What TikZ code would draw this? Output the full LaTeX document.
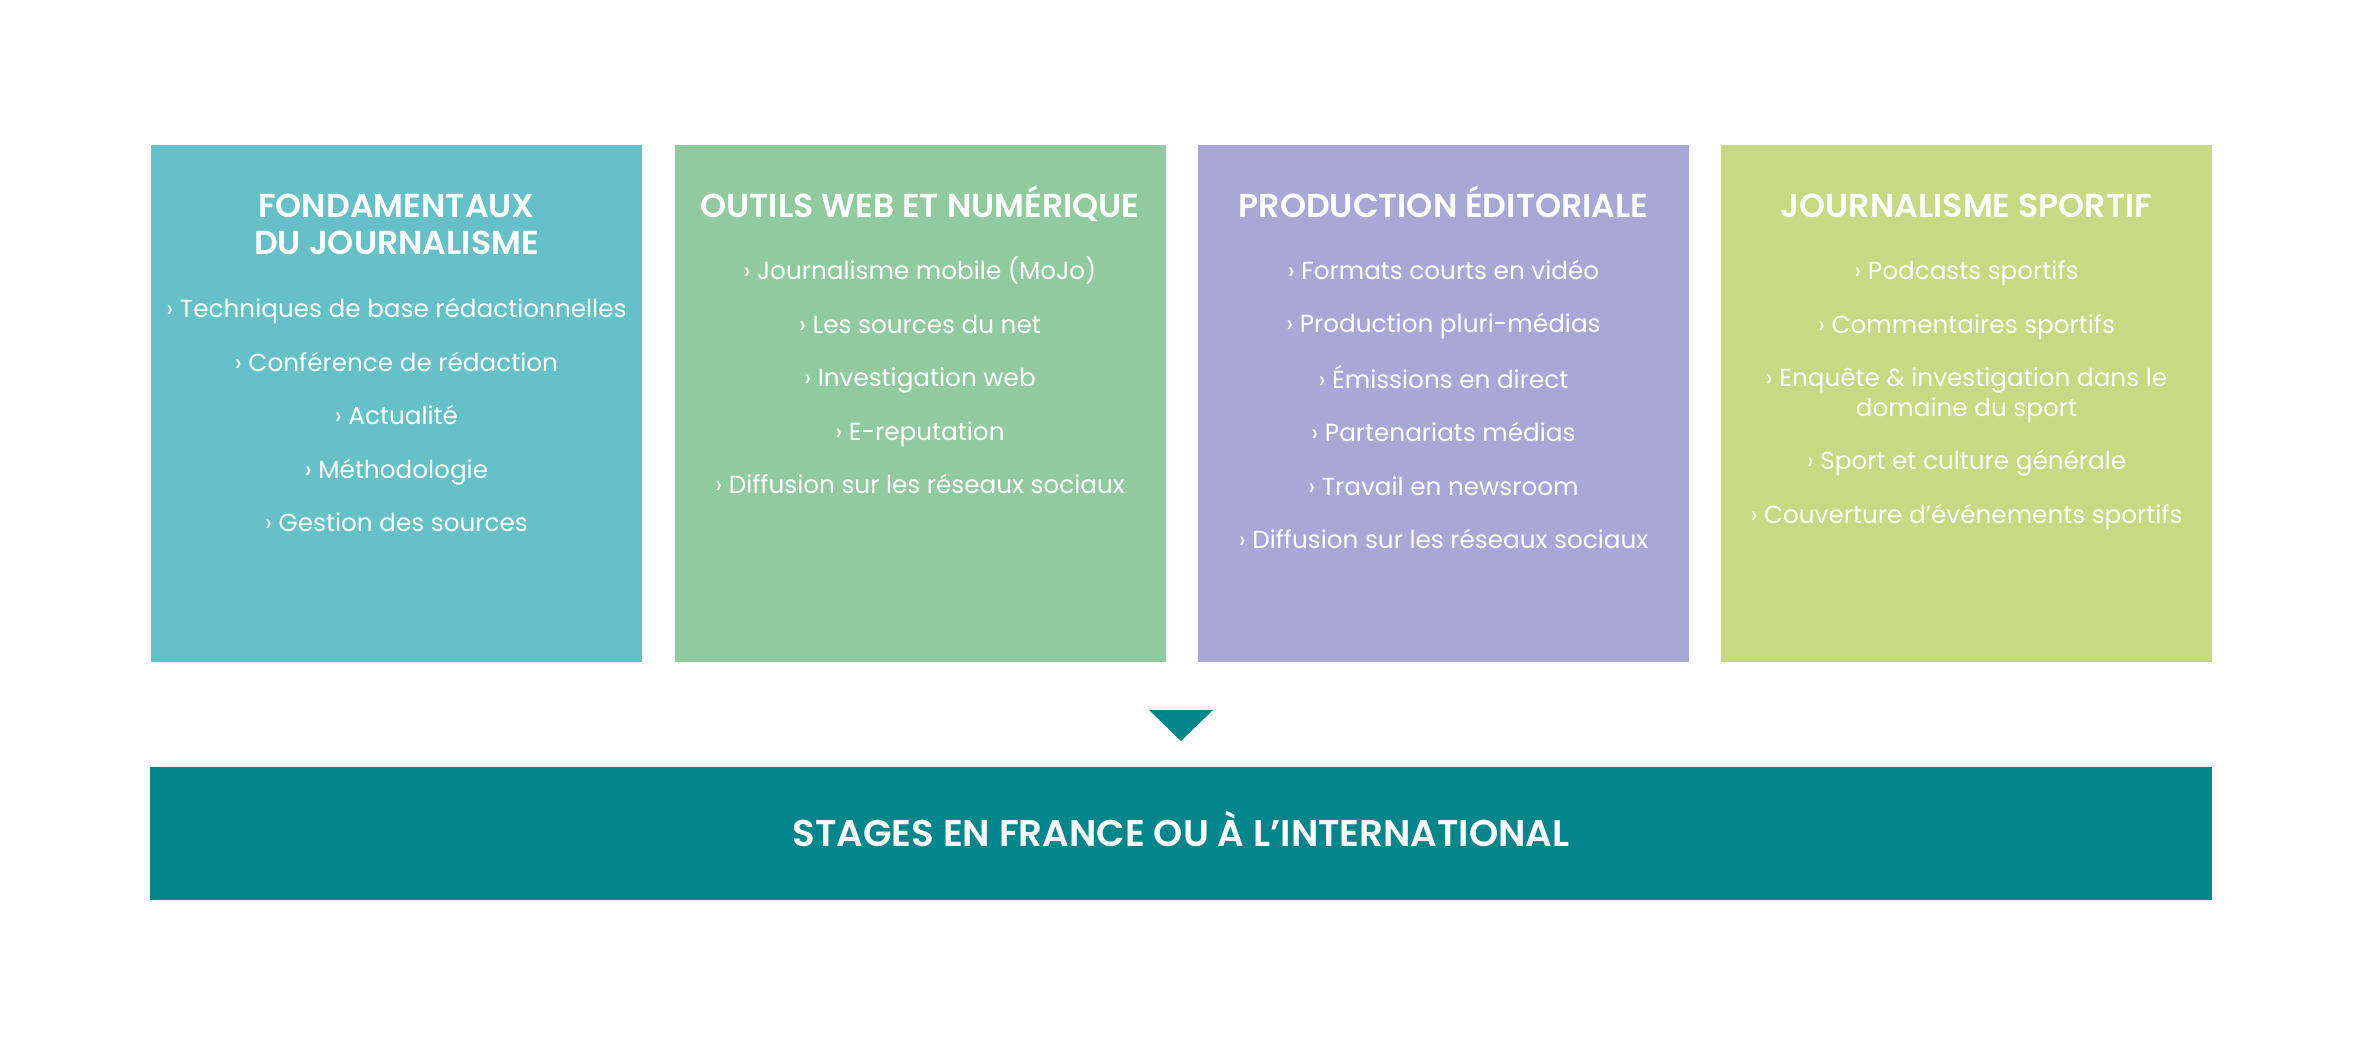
\documentclass[tikz,border=0pt]{standalone}
\usepackage{fontspec}
\setmainfont{Poppins}[BoldFont={Poppins SemiBold}]
\usepackage{xcolor}
\usetikzlibrary{positioning}

\definecolor{fondcol}{HTML}{65C1C7}
\definecolor{webcol}{HTML}{92CAA0}
\definecolor{prodcol}{HTML}{A7A8D5}
\definecolor{sportcol}{HTML}{C7D982}
\definecolor{stagecol}{HTML}{00868A}
\newcommand{\igap}{12.1pt}

\begin{document}
\begin{tikzpicture}[x=0.5pt, y=-0.5pt,
    block/.style={minimum width=245.5pt, minimum height=258.5pt, inner sep=0pt, outer sep=0pt},
    headtext/.style={anchor=base, align=center, text=white, inner sep=0pt, font=\fontsize{16.6}{18.5}\selectfont\bfseries},
    itemtext/.style={anchor=base, align=center, text=white, inner sep=0pt, font=\fontsize{12.35}{14.65}\selectfont}]
    \useasboundingbox (0,0) rectangle (2362,1063);

    % the four modules
    \node[block, fill=fondcol] (fond) at (396.5,403.5) {};
    \node[block, fill=webcol] (web) at (920,403.5) {};
    \node[block, fill=prodcol] (prod) at (1443.5,403.5) {};
    \node[block, fill=sportcol] (sport) at (1966.5,403.5) {};

    % base = last line
    \node[headtext] (fondhead) at (396.5,254.3) {FONDAMENTAUX\\DU JOURNALISME};
    \node[headtext] (webhead) at (920,217.3) {OUTILS WEB ET NUMÉRIQUE};
    \node[headtext] (prodhead) at (1443.5,217.3) {PRODUCTION ÉDITORIALE};
    \node[headtext] (sporthead) at (1966.5,217.3) {JOURNALISME SPORTIF};

    \node[itemtext] (funditems) at (396.5,531.7) {› Techniques de base rédactionnelles\\[\igap]
        › Conférence de rédaction\\[\igap] › Actualité\\[\igap] › Méthodologie\\[\igap] › Gestion des sources};
    \node[itemtext] (webitems) at (920,494) {› Journalisme mobile (MoJo)\\[\igap]
        › Les sources du net\\[\igap] › Investigation web\\[\igap] › E-reputation\\[\igap]
        › Diffusion sur les réseaux sociaux};
    \node[itemtext] (proditems) at (1443.5,549) {› Formats courts en vidéo\\[\igap]
        › Production pluri-médias\\[\igap] › Émissions en direct\\[\igap] › Partenariats médias\\[\igap]
        › Travail en newsroom\\[\igap] › Diffusion sur les réseaux sociaux};
    \node[itemtext] (sportitems) at (1966.5,523.3) {› Podcasts sportifs\\[\igap]
        › Commentaires sportifs\\[\igap] › Enquête \& investigation dans le\\domaine du sport\\[\igap]
        › Sport et culture générale\\[\igap] › Couverture d’événements sportifs};

    % pointer and internship bar
    \fill[stagecol] (1149,710) -- (1213,710) -- (1181,741) -- cycle;
    \node[fill=stagecol, minimum width=1031pt, minimum height=66.5pt, inner sep=0pt, text=white,
        text height=13pt, text depth=0pt,
        font=\fontsize{18.6}{22}\selectfont\bfseries] (stages) at (1181,833.5) {STAGES EN FRANCE OU À L’INTERNATIONAL};
\end{tikzpicture}
\end{document}
